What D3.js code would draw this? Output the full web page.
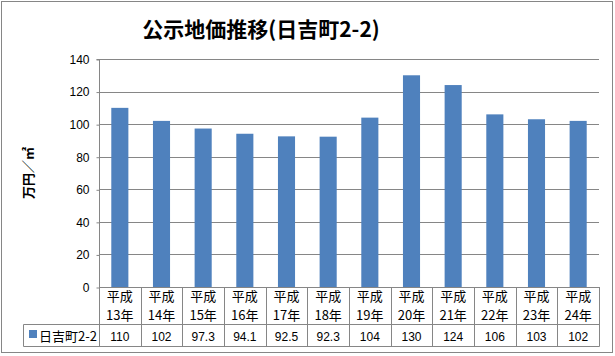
<!DOCTYPE html>
<html><head><meta charset="utf-8">
<script src="https://cdn.jsdelivr.net/npm/d3@7"></script>
<style>html,body{margin:0;padding:0;background:#fff;}svg{display:block;font-family:"Noto Sans CJK JP","Noto Sans",sans-serif;}</style>
</head><body>
<svg id="c" width="615" height="356"></svg>
<script>
const title = "公示地価推移(日吉町2-2)";
const yTitle = "万円／㎡";
const seriesName = "日吉町2-2";
const catTop = ["平成","平成","平成","平成","平成","平成","平成","平成","平成","平成","平成","平成"];
const catBottom = ["13年","14年","15年","16年","17年","18年","19年","20年","21年","22年","23年","24年"];
const values = [110, 102, 97.3, 94.1, 92.5, 92.3, 104, 130, 124, 106, 103, 102];
const valueLabels = ["110","102","97.3","94.1","92.5","92.3","104","130","124","106","103","102"];
const yTicks = [0, 20, 40, 60, 80, 100, 120, 140];

const svg = d3.select("#c");
const L = 99, R = 599, T = 59, B = 287;
const gridColor = "#868686";
const barColor = "#4F81BD";

svg.append("rect").attr("x",1.5).attr("y",1.5).attr("width",611).attr("height",351)
  .attr("fill","#fff").attr("stroke",gridColor).attr("stroke-width",1);

const x = d3.scaleBand().domain(d3.range(values.length)).range([L, R]).padding(0);
const y = d3.scaleLinear().domain([0, 140]).range([B, T]);

// gridlines
svg.append("g").selectAll("line").data(yTicks).join("line")
  .attr("x1", L).attr("x2", R)
  .attr("y1", d => Math.round(y(d)) + 0.5).attr("y2", d => Math.round(y(d)) + 0.5)
  .attr("stroke", gridColor).attr("stroke-width", 1);

// y axis
const yAxis = d3.axisLeft(y).tickValues(yTicks).tickSize(3).tickPadding(7);
const ga = svg.append("g").attr("transform", `translate(${L+0.5},0.5)`).call(yAxis);
ga.select(".domain").attr("stroke", gridColor).attr("d", `M-3,${T}H0V${B}`);
ga.selectAll(".tick line").attr("stroke", gridColor);
ga.selectAll(".tick text").attr("font-size", 12).attr("fill", "#000")
  .attr("font-family", "'Liberation Sans','DejaVu Sans',sans-serif");

// bars
const bw = x.bandwidth() * 0.41;
svg.append("g").selectAll("rect").data(values).join("rect")
  .attr("x", (d, i) => x(i) + (x.bandwidth() - bw) / 2)
  .attr("y", d => y(d))
  .attr("width", bw)
  .attr("height", d => B - y(d))
  .attr("fill", barColor);

// data table
const row1Bot = 324.5, row2Bot = 346.5, legL = 23.5;
const tg = svg.append("g").attr("stroke", gridColor).attr("stroke-width", 1).attr("fill", "none");
tg.append("line").attr("x1", L+0.5).attr("x2", R+0.5).attr("y1", B+0.5).attr("y2", B+0.5);
tg.append("line").attr("x1", legL).attr("x2", R+0.5).attr("y1", row1Bot).attr("y2", row1Bot);
tg.append("line").attr("x1", legL).attr("x2", R+0.5).attr("y1", row2Bot).attr("y2", row2Bot);
tg.append("line").attr("x1", legL).attr("x2", legL).attr("y1", row1Bot).attr("y2", row2Bot);
const bounds = d3.range(values.length + 1).map(i => i < values.length ? x(i) : R);
tg.selectAll("line.v").data(bounds).join("line").attr("class","v")
  .attr("x1", d => Math.round(d) + 0.5).attr("x2", d => Math.round(d) + 0.5)
  .attr("y1", B).attr("y2", row2Bot);

const cx = i => x(i) + x.bandwidth() / 2;
svg.append("g").selectAll("text").data(catTop).join("text")
  .attr("x", (d, i) => cx(i)).attr("y", 301).attr("text-anchor", "middle")
  .attr("font-size", 13).attr("fill", "#000").text(d => d);
svg.append("g").selectAll("text").data(catBottom).join("text")
  .attr("x", (d, i) => cx(i)).attr("y", 320).attr("text-anchor", "middle")
  .attr("font-size", 13).attr("fill", "#000").text(d => d);
svg.append("g").selectAll("text").data(valueLabels).join("text")
  .attr("x", (d, i) => cx(i)).attr("y", 341).attr("text-anchor", "middle")
  .attr("font-size", 12).attr("fill", "#000")
  .attr("font-family", "'Liberation Sans','DejaVu Sans',sans-serif").text(d => d);

// legend key
svg.append("rect").attr("x", 29).attr("y", 330).attr("width", 8).attr("height", 8).attr("fill", barColor);
svg.append("text").attr("x", 39).attr("y", 341).attr("font-size", 13).attr("fill", "#000").text(seriesName);

// title
svg.append("text").attr("x", 261).attr("y", 37).attr("text-anchor", "middle")
  .attr("font-size", 21).attr("font-weight", "bold").attr("fill", "#000").text(title);

// y title
svg.append("text").attr("transform", "translate(33,173) rotate(-90)").attr("text-anchor", "middle")
  .attr("font-size", 13).attr("font-weight", "bold").attr("fill", "#000").text(yTitle);
</script>
</body></html>
